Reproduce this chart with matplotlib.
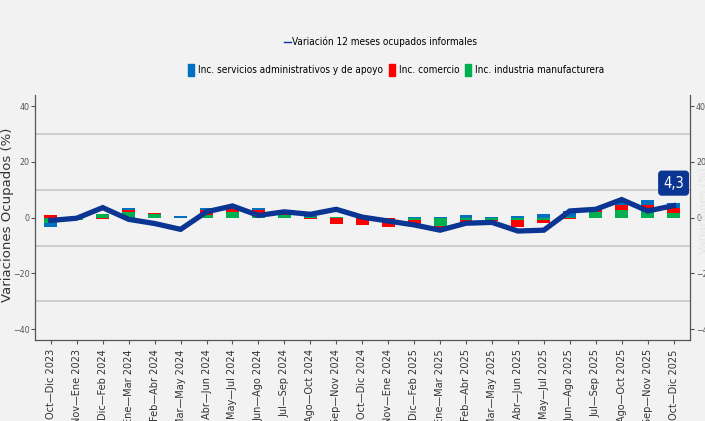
import numpy as np
import matplotlib
matplotlib.use("Agg")
import matplotlib.pyplot as plt
from matplotlib.lines import Line2D
from matplotlib.patches import Patch
from matplotlib.font_manager import FontProperties

periodos = ["Oct—Dic 2023", "Nov—Ene 2023", "Dic—Feb 2024", "Ene—Mar 2024", "Feb—Abr 2024",
            "Mar—May 2024", "Abr—Jun 2024", "May—Jul 2024", "Jun—Ago 2024", "Jul—Sep 2024",
            "Ago—Oct 2024", "Sep—Nov 2024", "Oct—Dic 2024", "Nov—Ene 2024", "Dic—Feb 2025",
            "Ene—Mar 2025", "Feb—Abr 2025", "Mar—May 2025", "Abr—Jun 2025", "May—Jul 2025",
            "Jun—Ago 2025", "Jul—Sep 2025", "Ago—Oct 2025", "Sep—Nov 2025", "Oct—Dic 2025"]

# variacion 12 meses ocupados informales (%)
variacion = [-1.0, -0.2, 3.6, -0.6, -2.1, -4.2, 2.1, 4.2, 0.8, 2.1, 1.2, 3.0, 0.2, -1.2, -2.6,
             -4.5, -2.0, -1.7, -4.8, -4.5, 2.4, 3.0, 6.5, 2.4, 4.3]

# incidencias (puntos porcentuales)
inc_industria = [-1.8, -0.9, 1.2, 2.0, 1.2, 0.0, 1.0, 2.0, 1.7, 1.0, 0.4, 0.2, 0.5, -0.3, -0.8,
                 -3.0, -0.9, -0.9, -0.7, -0.8, 0.3, 1.9, 2.6, 2.6, 1.5]
inc_comercio = [0.8, 0.5, -0.4, 0.7, 0.5, 0.0, 1.8, 1.3, 0.9, 0.4, -0.6, -2.4, -2.7, -3.0, -2.3,
                -1.2, -0.6, -0.4, -2.8, -1.2, -0.4, 1.0, 1.9, 2.1, 1.8]
inc_servicios = [-1.4, 0.0, 0.0, 0.8, 0.1, 0.5, 0.6, 0.3, 1.0, 0.4, 0.1, 0.0, 0.0, 0.0, 0.4,
                 0.4, 1.0, 0.4, 0.5, 1.4, 2.0, 0.6, 1.5, 1.6, 2.0]

bg = "#f2f2f2"
navy = "#0a3592"
c_serv = "#0070c0"
c_com = "#ff0000"
c_ind = "#00b050"
fp_leg = FontProperties(family="DejaVu Sans", stretch="condensed", size=7.2)
fp_tick = FontProperties(family="DejaVu Sans", stretch="condensed", size=6.3)

fig = plt.figure(figsize=(7.05, 4.21), dpi=100, facecolor=bg)
ax = fig.add_axes([0.050, 0.192, 0.929, 0.582], facecolor=bg)

x = np.arange(len(periodos))
pos = np.zeros(len(x))
neg = np.zeros(len(x))
for vals, col in [(inc_industria, c_ind), (inc_comercio, c_com), (inc_servicios, c_serv)]:
    v = np.array(vals)
    base = np.where(v >= 0, pos, neg)
    ax.bar(x, v, 0.5, bottom=base, color=col, linewidth=0, zorder=2)
    pos = pos + np.where(v >= 0, v, 0)
    neg = neg + np.where(v < 0, v, 0)

ax.plot(x, variacion, color=navy, lw=3.8, solid_joinstyle="miter", zorder=3)

ax.text(x[-1], 12.4, "4,3", color="white", fontproperties=FontProperties(family="DejaVu Sans",
        stretch="condensed", size=10.5), ha="center", va="center",
        bbox=dict(boxstyle="round,pad=0.3,rounding_size=0.2", fc=navy, ec=navy), zorder=4)

for g in [-30, -10, 10, 30]:
    ax.axhline(g, color="#cbcbcb", lw=1.3, zorder=1)

ax.set_xlim(-0.6, 24.64)
ax.set_ylim(-44, 44)
ax.set_yticks([-40, -20, 0, 20, 40])
ax.set_xticks(x)
ax.set_xticklabels(periodos, rotation=90, fontsize=7, color="#333333")
ax.tick_params(axis="y", length=3, colors="#555555",
               left=True, right=True, labelleft=True, labelright=True, pad=1.2)
ax.tick_params(axis="x", length=3, colors="#555555", labelcolor="#333333")
for t in ax.yaxis.get_major_ticks():
    t.label1.set_fontproperties(fp_tick)
    t.label2.set_fontproperties(fp_tick)
ax.spines["top"].set_visible(False)
for s in ["left", "right", "bottom"]:
    ax.spines[s].set_color("#555555")
    ax.spines[s].set_linewidth(0.9)

ax.set_ylabel("Variaciones Ocupados (%)", fontsize=9.5, color="#333333")
ax.yaxis.set_label_coords(-0.033, 0.51)
fig.text(0.998, 0.5, "Variaciones (%)", rotation=90, fontsize=8, color="#e4e4e4",
         ha="center", va="center")

fig.legend(handles=[Line2D([], [], color=navy, lw=1)], labels=["Variación 12 meses ocupados informales"],
           loc="center", bbox_to_anchor=(0.54, 0.900), frameon=False, handlelength=0.7,
           handletextpad=0.1, prop=fp_leg)
fig.legend(handles=[Patch(color=c_serv), Patch(color=c_com), Patch(color=c_ind)],
           labels=["Inc. servicios administrativos y de apoyo", "Inc. comercio",
                   "Inc. industria manufacturera"],
           loc="center", bbox_to_anchor=(0.562, 0.834), ncol=3, frameon=False,
           handlelength=0.6, handleheight=1.5, handletextpad=0.4, columnspacing=0.6,
           prop=fp_leg)

fig.savefig("out.png", dpi=100, facecolor=bg)
